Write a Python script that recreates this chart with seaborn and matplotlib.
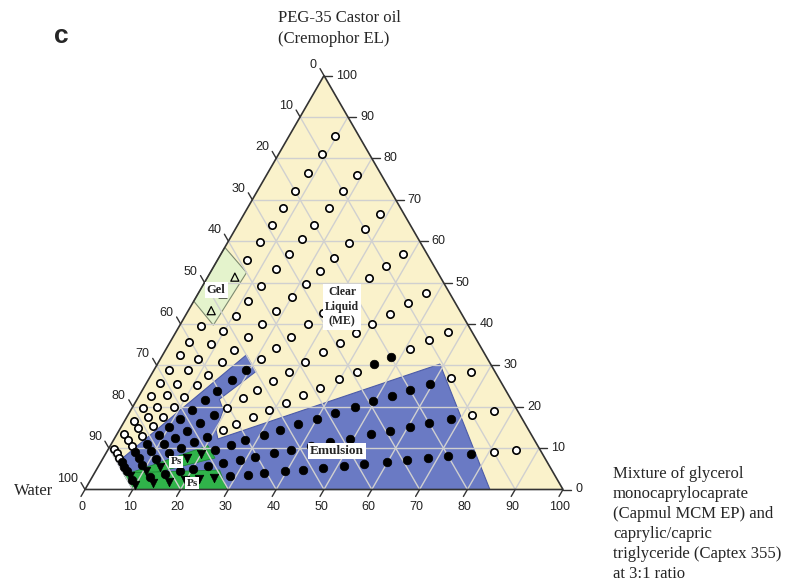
import numpy as np
import pandas as pd
import seaborn as sns
import matplotlib.pyplot as plt
from matplotlib.patches import Polygon

# dilution lines: Cremophor share (%) in the water-free blend, 9:1 ... 1:9
ratio_names = ['9:1', '8:2', '7:3', '6:4', '5:5', '4:6', '3:7', '2:8', '1:9']
cremophor_share = [90, 80, 70, 60, 50, 40, 30, 20, 10]
# water content (%) of each dilution step along a line
water_levels = [5, 10, 15, 20, 24.5, 29, 33.5, 38.5, 43, 47.5, 52, 56,
                60.5, 64, 68, 71.5, 75, 78, 81.5, 85, 89]
# o = clear liquid (ME), e = emulsion, g = gel, p = phase separation
phases = {
    '9:1': 'oooooooogggoooooooooo',
    '8:2': 'ooooooooooooooooooooo',
    '7:3': 'ooooooooooooooooooooo',
    '6:4': 'ooooooooooeeeeeeeeeee',
    '5:5': 'oooooooooooooeeeeeeee',
    '4:6': 'oooeeoooooooooeeeeeee',
    '3:7': 'ooeeeeeeeeeeeeepppppp',
    '2:8': 'ooeeeeeeeeeeeeeeeeeee',
    '1:9': 'ooeeeeeeeeeeeeepppppp',
}

# phase regions, vertices as (water, cremophor, mixture) %
liquid_region = [(0, 100, 0), (0, 0, 100), (90, 0, 10), (90, 10, 0)]
emulsion_region = [(50, 32.5, 17.5), (50, 28.5, 21.5), (61, 21.8, 17.2),
                   (61.5, 19.2, 19.3), (65.4, 14.4, 20.2), (66.1, 12.2, 21.7),
                   (10.6, 30.3, 59.1), (15.3, 0, 84.7), (70.3, 0, 29.7),
                   (90, 0, 10), (90, 6.5, 3.5)]
gel_region = [(41.5, 58.5, 0), (40, 52.4, 7.6), (53.3, 39.7, 7), (54.5, 45.5, 0)]
ps_band = [(69, 10.6, 20.4), (90, 3.5, 6.5), (90, 2.4, 7.6), (69, 7.6, 23.4)]
ps_bottom = [(90, 0, 10), (90, 4, 6), (69.5, 4.7, 25.8), (70.3, 0, 29.7)]

ticks = [0, 10, 20, 30, 40, 50, 60, 70, 80, 90, 100]

S = np.sqrt(3) / 2
PX = 478.0  # pixels per unit side


def tern(c, b):
    return (b + c / 2) / 100, c / 100 * S


def region_xy(region):
    return [tern(c, b) for w, c, b in region]


def px(x, y):
    return (x - 85) / PX, (489.5 - y) / PX


rows = []
for name, share in zip(ratio_names, cremophor_share):
    for w, ph in zip(water_levels, phases[name]):
        c = share * (100 - w) / 100
        b = (100 - share) * (100 - w) / 100
        x, y = tern(c, b)
        rows.append({'ratio': name, 'water': w, 'x': x, 'y': y, 'phase': ph})
df = pd.DataFrame(rows)

sns.set_theme(style='white')
fig = plt.figure(figsize=(7.99, 5.84), dpi=100)
ax = fig.add_axes([0, 0, 1, 1])
ax.set_xlim(-85 / PX, (799 - 85) / PX)
ax.set_ylim((489.5 - 584) / PX, 489.5 / PX)
ax.axis('off')

ax.add_patch(Polygon(region_xy(liquid_region), closed=True, fc='#faf2cb', ec='none', zorder=1))
ax.add_patch(Polygon(region_xy(emulsion_region), closed=True, fc='#6a7ac4', ec='#4d5ca8', lw=0.8, zorder=2))
ax.add_patch(Polygon(region_xy(ps_band), closed=True, fc='#30b34a', ec='#1f8a35', lw=0.6, zorder=3))
ax.add_patch(Polygon(region_xy(ps_bottom), closed=True, fc='#30b34a', ec='#1f8a35', lw=0.6, zorder=3))
ax.add_patch(Polygon(region_xy(gel_region), closed=True, fc='#e4f3cc', ec='#7d8a70', lw=0.8, zorder=3))

# grid
for k in ticks[1:-1]:
    for p0, p1 in [(tern(k, 0), tern(k, 100 - k)),          # constant cremophor
                   (tern(0, k), tern(100 - k, k)),          # constant mixture
                   (tern(100 - k, 0), tern(0, 100 - k))]:   # constant water
        ax.plot([p0[0], p1[0]], [p0[1], p1[1]], color='#d0d0d0', lw=1.0, zorder=4)

# frame
frame = region_xy([(0, 100, 0), (0, 0, 100), (100, 0, 0)])
ax.add_patch(Polygon(frame, closed=True, fill=False, ec='#333333', lw=1.2, zorder=5))

# ticks and tick labels
tl = 8 / PX
tick_font = dict(fontsize=9, family='Liberation Sans', color='#222222')
for k in ticks:
    # left axis: water
    x, y = tern(100 - k, 0)
    ax.plot([x, x - 0.5 * tl], [y, y + S * tl], color='#333333', lw=1, zorder=5)
    ax.text(x - 7 / PX, y + 11 / PX, str(k), ha='right', va='center', **tick_font)
    # right axis: cremophor
    x, y = tern(k, 100 - k)
    ax.plot([x, x + tl], [y, y], color='#333333', lw=1, zorder=5)
    ax.text(x + 12 / PX, y, str(k), ha='left', va='center', **tick_font)
    # bottom axis: mixture
    x, y = tern(0, k)
    ax.plot([x, x - 0.5 * tl], [y, y - S * tl], color='#333333', lw=1, zorder=5)
    ax.text(x - 3 / PX, y - 17 / PX, str(k), ha='center', va='center', **tick_font)

# points
styles = {
    'o': dict(marker='o', s=28, facecolor='white', edgecolor='black', linewidth=1.2),
    'e': dict(marker='o', s=38, color='black', edgecolor='black', linewidth=0.5),
    'g': dict(marker='^', s=34, facecolor='none', edgecolor='black', linewidth=0.9),
    'p': dict(marker='v', s=38, color='black', edgecolor='black', linewidth=0.5),
}
for ph, st in styles.items():
    sub = df[df['phase'] == ph]
    sns.scatterplot(data=sub, x='x', y='y', ax=ax, zorder=6, legend=False, **st)

# region labels
box = dict(facecolor='white', edgecolor='none', pad=1.5)
small_box = dict(facecolor='white', edgecolor='none', pad=0.8)
serif = 'Liberation Serif'
ax.text(*px(216, 290), 'Gel', ha='center', va='center', fontsize=9,
        fontweight='bold', family=serif, bbox=box, zorder=7)
ax.text(*px(342, 307), 'Clear\nLiquid\n(ME)', ha='center', va='center', fontsize=8.5,
        fontweight='bold', family=serif, linespacing=1.3, bbox=box, zorder=7)
ax.text(*px(337, 451), 'Emulsion', ha='center', va='center', fontsize=9.5,
        fontweight='bold', family=serif, bbox=box, zorder=7)
ax.text(*px(176, 462), 'Ps', ha='center', va='center', fontsize=8,
        fontweight='bold', family=serif, bbox=small_box, zorder=7)
ax.text(*px(192, 483), 'Ps', ha='center', va='center', fontsize=8,
        fontweight='bold', family=serif, bbox=small_box, zorder=7)

# component names
ax.text(*px(278, 18), 'PEG-35 Castor oil', ha='left', va='center', fontsize=12, family=serif)
ax.text(*px(278, 39), '(Cremophor EL)', ha='left', va='center', fontsize=12, family=serif)
ax.text(*px(14, 491), 'Water', ha='left', va='center', fontsize=12, family=serif)
side_lines = ['Mixture of glycerol', 'monocaprylocaprate', '(Capmul MCM EP) and',
              'caprylic/capric', 'triglyceride (Captex 355)', 'at 3:1 ratio']
for i, line in enumerate(side_lines):
    ax.text(*px(613, 474 + 20 * i), line, ha='left', va='center', fontsize=12, family=serif)

ax.text(*px(54, 36), 'c', ha='left', va='center', fontsize=19, fontweight='heavy',
        family='Liberation Sans')

fig.savefig('out.png', dpi=100, facecolor='white')
